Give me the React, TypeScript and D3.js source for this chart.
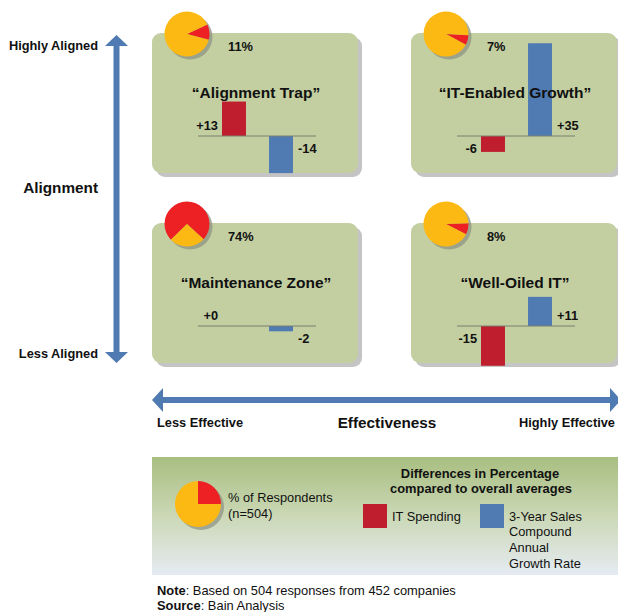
import React from "react";
import * as d3 from "d3";

// ---- data ----
const quadrants = ["“Alignment Trap”", "“IT-Enabled Growth”", "“Maintenance Zone”", "“Well-Oiled IT”"];
const quadrantRow = [0, 0, 1, 1];
const quadrantCol = [0, 1, 0, 1];
const respondentShare = [11, 7, 74, 8]; // % of respondents
const pieRotationDeg = [65, 93, -134, 88];
const itSpending = [13, -6, 0, -15];
const salesCagr = [-14, 35, -2, 11];
const seriesNames = ["IT Spending", "3-Year Sales Compound Annual Growth Rate"];
const legendShare = 25;
const yAxisLabels = ["Highly Aligned", "Alignment", "Less Aligned"];
const xAxisLabels = ["Less Effective", "Effectiveness", "Highly Effective"];
const salesLegendLines = ["3-Year Sales", "Compound", "Annual", "Growth Rate"];

const FONT = "'Liberation Sans', Arial, Helvetica, sans-serif";
const RED_BAR = "#be1e2d";
const BLUE = "#4f7bb2";
const PIE_RED = "#ed2024";
const PIE_YELLOW = "#fdb913";
const BOX = "#c3cfa1";

const colX = d3.scaleOrdinal<number, number>().domain([0, 1]).range([152, 411]);
const rowY = d3.scaleOrdinal<number, number>().domain([0, 1]).range([33, 223]);
const BOX_W = 206;
const BOX_H = 140;
const BASE_Y = 103;

const barX = d3.scaleBand<string>().domain(seriesNames).range([70, 141]).paddingInner(0.49);
const barY = d3.scaleLinear().domain([-40, 40]).range([106, -106]);

const fmt = (v: number) => (v >= 0 ? "+" + v : String(v));

function Pie({ cx, cy, r, share, rot }: { cx: number; cy: number; r: number; share: number; rot: number }) {
  const start = (rot * Math.PI) / 180;
  const arcs = d3
    .pie<number>()
    .sort(null)
    .startAngle(start)
    .endAngle(start + 2 * Math.PI)([share, 100 - share]);
  const arc = d3.arc<d3.PieArcDatum<number>>().innerRadius(0).outerRadius(r);
  return (
    <g>
      <circle cx={cx + 3} cy={cy + 3} r={r} fill="#8f9484" opacity={0.75} />
      <g transform={`translate(${cx},${cy})`}>
        {arcs.map((a, i) => (
          <path key={i} d={arc(a) || ""} fill={i === 0 ? PIE_RED : PIE_YELLOW} />
        ))}
      </g>
    </g>
  );
}

function Quadrant({ i }: { i: number }) {
  const x0 = colX(quadrantCol[i]);
  const y0 = rowY(quadrantRow[i]);
  const vals = [itSpending[i], salesCagr[i]];
  return (
    <g transform={`translate(${x0},${y0})`}>
      <rect x={4} y={4} width={BOX_W} height={BOX_H} rx={9} fill="#c4c4c4" />
      <rect x={0} y={0} width={BOX_W} height={BOX_H} rx={9} fill={BOX} />
      <Pie cx={35} cy={1} r={22.5} share={respondentShare[i]} rot={pieRotationDeg[i]} />
      <text x={76} y={13 + 4.5} fontFamily={FONT} fontWeight="bold" fontSize={12.8} fill="#111">
        {respondentShare[i] + "%"}
      </text>
      {vals.map((v, k) => {
        const bx = barX(seriesNames[k])!;
        const top = BASE_Y + Math.min(barY(v), barY(0));
        const h = Math.abs(barY(v) - barY(0));
        return <rect key={k} x={bx} y={top} width={barX.bandwidth()} height={h} fill={k === 0 ? RED_BAR : BLUE} />;
      })}
      <line x1={46} x2={164} y1={BASE_Y} y2={BASE_Y} stroke="#7a7f70" strokeWidth={1} />
      <text x={BOX_W / 2 + 1} y={59 + 5.5} textAnchor="middle" fontFamily={FONT} fontWeight="bold" fontSize={15.5} fill="#111">
        {quadrants[i]}
      </text>
      {vals.map((v, k) => {
        const bx = barX(seriesNames[k])!;
        const ly = BASE_Y + (v >= 0 ? -11 : 12) + 4.5;
        const lx = k === 0 ? bx - 4 : bx + barX.bandwidth() + 5;
        return (
          <text key={k} x={lx} y={ly} textAnchor={k === 0 ? "end" : "start"} fontFamily={FONT} fontWeight="bold" fontSize={12.8} fill="#111">
            {fmt(v)}
          </text>
        );
      })}
    </g>
  );
}

export default function App() {
  const legendPieArcs = d3.pie<number>().sort(null)([legendShare, 100 - legendShare]);
  const lArc = d3.arc<d3.PieArcDatum<number>>().innerRadius(0).outerRadius(23);
  return (
    <div style={{ position: "absolute", left: 0, top: 0 }}>
      <svg width={618} height={612} style={{ display: "block", background: "#fff" }}>
        <defs>
          <linearGradient id="legGrad" x1="0" y1="0" x2="0" y2="1">
            <stop offset="0" stopColor="#a8be80" />
            <stop offset="0.5" stopColor="#cbd8b6" />
            <stop offset="1" stopColor="#e5ebf2" />
          </linearGradient>
        </defs>

        {/* vertical arrow */}
        <rect x={113.5} y={45} width={6} height={308} fill={BLUE} />
        <path d="M116.5,35 L128,46 L105,46 Z" fill={BLUE} />
        <path d="M116.5,363 L128,352 L105,352 Z" fill={BLUE} />
        <text x={98} y={45 + 4.5} textAnchor="end" fontFamily={FONT} fontWeight="bold" fontSize={12.8} fill="#111">{yAxisLabels[0]}</text>
        <text x={98} y={187 + 5.5} textAnchor="end" fontFamily={FONT} fontWeight="bold" fontSize={15.3} fill="#111">{yAxisLabels[1]}</text>
        <text x={98} y={353 + 4.5} textAnchor="end" fontFamily={FONT} fontWeight="bold" fontSize={12.8} fill="#111">{yAxisLabels[2]}</text>

        {/* horizontal arrow */}
        <rect x={162} y={397} width={450} height={6} fill={BLUE} />
        <path d="M152,400 L163,388 L163,412 Z" fill={BLUE} />
        <path d="M621,400 L610,388 L610,412 Z" fill={BLUE} />
        <text x={157} y={422 + 4.5} fontFamily={FONT} fontWeight="bold" fontSize={12.8} fill="#111">{xAxisLabels[0]}</text>
        <text x={387} y={422 + 5.5} textAnchor="middle" fontFamily={FONT} fontWeight="bold" fontSize={15.3} fill="#111">{xAxisLabels[1]}</text>
        <text x={615} y={422 + 4.5} textAnchor="end" fontFamily={FONT} fontWeight="bold" fontSize={12.8} fill="#111">{xAxisLabels[2]}</text>

        {quadrants.map((_, i) => (
          <Quadrant key={i} i={i} />
        ))}

        {/* legend */}
        <rect x={152} y={457} width={470} height={118} fill="url(#legGrad)" />
        <circle cx={201} cy={507} r={23} fill="#8f9484" opacity={0.75} />
        <g transform="translate(198,504)">
          {legendPieArcs.map((a, i) => (
            <path key={i} d={lArc(a) || ""} fill={i === 0 ? PIE_RED : PIE_YELLOW} />
          ))}
        </g>
        <text x={228} y={497 + 4.5} fontFamily={FONT} fontSize={12.8} fill="#111">% of Respondents</text>
        <text x={228} y={513 + 4.5} fontFamily={FONT} fontSize={12.8} fill="#111">(n=504)</text>
        <text x={480} y={473 + 4.5} textAnchor="middle" fontFamily={FONT} fontWeight="bold" fontSize={12.9} fill="#111">Differences in Percentage</text>
        <text x={481} y={488 + 4.5} textAnchor="middle" fontFamily={FONT} fontWeight="bold" fontSize={12.9} fill="#111">compared to overall averages</text>
        <rect x={363} y={504} width={24} height={24} fill={RED_BAR} />
        <text x={392} y={516 + 4.5} fontFamily={FONT} fontSize={12.8} fill="#111">{seriesNames[0]}</text>
        <rect x={480} y={504} width={24} height={24} fill={BLUE} />
        {salesLegendLines.map((t, k) => (
          <text key={k} x={509} y={516 + k * 15.7 + 4.5} fontFamily={FONT} fontSize={12.8} fill="#111">{t}</text>
        ))}

        {/* notes */}
        <text x={157} y={590 + 4.5} fontFamily={FONT} fontSize={12.9} fill="#111">
          <tspan fontWeight="bold">Note</tspan>: Based on 504 responses from 452 companies
        </text>
        <text x={157} y={605 + 4.5} fontFamily={FONT} fontSize={12.9} fill="#111">
          <tspan fontWeight="bold">Source</tspan>: Bain Analysis
        </text>
      </svg>
    </div>
  );
}
